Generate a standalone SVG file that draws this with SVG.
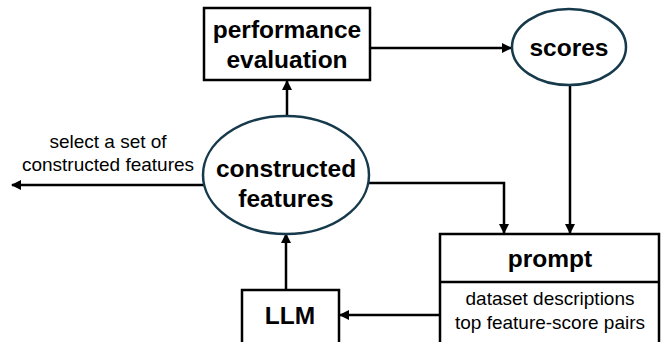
<svg xmlns="http://www.w3.org/2000/svg" width="666" height="342" viewBox="0 0 666 342">
<style>
.box{fill:#fff;stroke:#000;stroke-width:2.5}
.ell{fill:#fff;stroke:#163a4c;stroke-width:2.5}
.b{font-family:"Liberation Sans",Arial,sans-serif;font-weight:bold;font-size:24.5px;text-anchor:middle;fill:#000}
.r{font-family:"Liberation Sans",Arial,sans-serif;font-size:19px;text-anchor:middle;fill:#000}
.c{fill:none;stroke:#000;stroke-width:2.5}
</style>
<defs>
<marker id="ah" viewBox="0 0 10 10" refX="9" refY="5" markerWidth="4" markerHeight="4" orient="auto" markerUnits="strokeWidth">
<path d="M0,0 L10,5 L0,10 z" fill="#000"/>
</marker>
</defs>
<g id="connectors">
<path class="c" d="M370,48 H511" marker-end="url(#ah)"/>
<path class="c" d="M570,85 V233" marker-end="url(#ah)"/>
<path class="c" d="M366,183 H504 V233" marker-end="url(#ah)"/>
<path class="c" d="M440,315 H340" marker-end="url(#ah)"/>
<path class="c" d="M286,290 V234" marker-end="url(#ah)"/>
<path class="c" d="M287,116 V81" marker-end="url(#ah)"/>
<path class="c" d="M204,185 H12" marker-end="url(#ah)"/>
</g>
<g id="label-select">
<text class="r" x="108" y="148">select a set of</text>
<text class="r" x="108" y="171">constructed features</text>
</g>
<g id="performance-evaluation">
<rect class="box" x="204" y="8" width="166" height="72"/>
<text class="b" x="287" y="38">performance</text>
<text class="b" x="287" y="68">evaluation</text>
</g>
<g id="scores">
<ellipse class="ell" cx="569" cy="47" rx="57" ry="38"/>
<text class="b" x="569" y="56">scores</text>
</g>
<g id="constructed-features">
<ellipse class="ell" cx="286" cy="175" rx="83" ry="59"/>
<text class="b" x="286" y="177">constructed</text>
<text class="b" x="286" y="207">features</text>
</g>
<g id="prompt">
<rect class="box" x="440" y="234" width="219" height="115"/>
<line class="c" x1="440" y1="282" x2="659" y2="282"/>
<text class="b" x="550" y="267">prompt</text>
<text class="r" x="550" y="305">dataset descriptions</text>
<text class="r" x="550" y="329">top feature-score pairs</text>
</g>
<g id="LLM">
<rect class="box" x="242" y="290" width="97" height="60"/>
<text class="b" x="290" y="324">LLM</text>
</g>
</svg>
